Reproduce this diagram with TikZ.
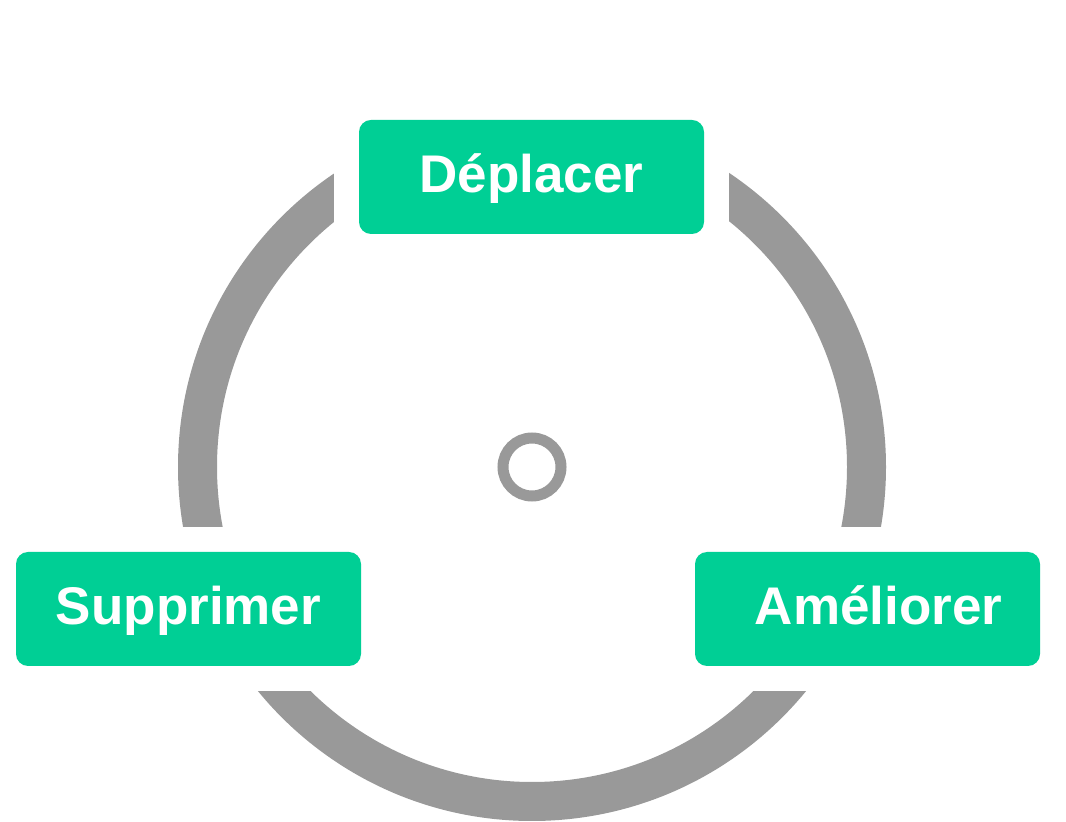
\documentclass[tikz,border=0pt]{standalone}
\usepackage{fontspec}
\setmainfont{Liberation Sans}
\usepackage{tikz}
\usetikzlibrary{positioning, fit}
\definecolor{ringgray}{RGB}{153,153,153}
\definecolor{actiongreen}{RGB}{0,207,149}

\begin{document}
\begin{tikzpicture}[
    x=1pt, y=1pt,
    ring/.style={draw=ringgray, line width=39pt},
    hub/.style={draw=ringgray, fill=white, circle, line width=11pt, minimum size=58pt, inner sep=0pt},
    action/.style={fill=actiongreen, rounded corners=12pt, minimum width=345pt, minimum height=114pt, inner sep=0pt, text=white, font=\fontsize{53}{60}\selectfont\bfseries, text height=40pt, text depth=8pt},
    mask/.style={fill=white, inner sep=25pt}
]
    \useasboundingbox (0,0) rectangle (1066,822);

    % Cycle
    \coordinate (c) at (532,355);
    \draw[ring] (c) circle[radius=334.5];
    \node[hub] (hub) at (c) {};

    % Actions
    \node[action] (move) at (531.5,645) {};
    \node[action] (del) at (188.5,213) {};
    \node[action] (improve) at (867.5,213) {};

    % Gaps in the ring
    \node[mask, fit=(move)] (movegap) {};
    \node[mask, fit=(del)] (delgap) {};
    \node[mask, fit=(improve)] (improvegap) {};

    % Labels
    \node[action] at (move) {Déplacer};
    \node[action] at (del) {Supprimer};
    \node[action] at (improve) {\hspace*{22pt}Améliorer};
\end{tikzpicture}
\end{document}
